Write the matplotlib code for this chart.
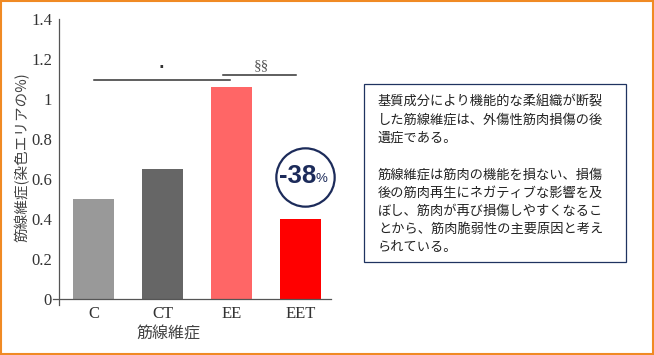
import matplotlib.pyplot as plt
from matplotlib.patches import Rectangle

plt.rcParams['font.family'] = ['Noto Sans CJK JP', 'DejaVu Sans']

groups = ["C", "CT", "EE", "EET"]
fibrosis = [0.50, 0.65, 1.06, 0.40]
colors = ["#999999", "#666666", "#ff6666", "#ff0000"]
yticks = [0, 0.2, 0.4, 0.6, 0.8, 1.0, 1.2, 1.4]
ytick_labels = ["0", "0.2", "0.4", "0.6", "0.8", "1", "1.2", "1.4"]
change_label = "-38"

note_lines = [
    "基質成分により機能的な柔組織が断裂",
    "した筋線維症は、外傷性筋肉損傷の後",
    "遺症である。",
    "",
    "筋線維症は筋肉の機能を損ない、損傷",
    "後の筋肉再生にネガティブな影響を及",
    "ぼし、筋肉が再び損傷しやすくなるこ",
    "とから、筋肉脆弱性の主要原因と考え",
    "られている。",
]

W, H = 654, 355
fig = plt.figure(figsize=(W / 100, H / 100), dpi=100)
ax = fig.add_axes([53 / W, (H - 305) / H, (331 - 53) / W, (305 - 19) / H])

x = range(len(groups))
ax.bar(x, fibrosis, width=0.6, color=colors, zorder=2)

ax.set_xlim(-0.587, 3.44)
ax.set_ylim(-0.03, 1.4)
for s in ["top", "right"]:
    ax.spines[s].set_visible(False)
ax.spines["left"].set_position(("data", -0.5))
ax.spines["bottom"].set_position(("data", 0))
for s in ["left", "bottom"]:
    ax.spines[s].set_color("#555555")
    ax.spines[s].set_linewidth(0.9)

ax.set_yticks(yticks)
ax.set_yticklabels(ytick_labels, family="Liberation Serif", fontsize=12,
                   color="#333333")
ax.set_xticks(list(x))
ax.set_xticklabels(groups, family="Liberation Serif", fontsize=12, color="#333333")
ax.tick_params(axis="y", length=0, pad=5)
ax.tick_params(axis="x", length=0, pad=5)

ax.set_xlabel("筋線維症", fontsize=11.5, color="#444444", va="center")
ax.xaxis.set_label_coords(0.414, -0.1)
fig.text(22 / W, 1 - 157 / H, "筋線維症(染色エリアの%)", rotation=90,
         ha="center", va="center", fontsize=10.5, color="#444444")

# significance brackets
ax.plot([0, 1.98], [1.094, 1.094], color="#333333", lw=1.1, clip_on=False)
ax.plot([1.88, 2.93], [1.119, 1.119], color="#333333", lw=1.1, clip_on=False)
ax.text(0.98, 1.16, "·", ha="center", va="center", fontsize=11,
        color="#333333", family="DejaVu Sans", fontweight="bold")
ax.text(2.43, 1.165, "§§", ha="center", va="center", fontsize=11,
        color="#555555", family="Liberation Serif")

# -38% circle
ax.plot([3.06], [0.61], marker="o", markersize=42, markerfacecolor="white",
        markeredgecolor="#1c2b5a", markeredgewidth=1.6, clip_on=False, zorder=3)
ax.text(2.96, 0.615, change_label, ha="center", va="center", fontsize=18.5,
        fontweight="bold", color="#1c2b5a", family="Liberation Sans", zorder=4)
ax.text(3.3, 0.598, "%", ha="center", va="center", fontsize=9.5,
        color="#1c2b5a", family="Liberation Sans", zorder=4)

# note box
fig.patches.append(Rectangle((364 / W, 1 - 262 / H), (626 - 364) / W, (262 - 84) / H,
                             transform=fig.transFigure, fill=False,
                             edgecolor="#1f3360", linewidth=0.9))
for i, line in enumerate(note_lines):
    fig.text(378 / W, 1 - (102 + i * 18.2) / H, line, ha="left", va="center",
             fontsize=9.5, color="#222222")

# orange frame
fig.patches.append(Rectangle((1 / W, 1 / H), (W - 2) / W, (H - 2) / H,
                             transform=fig.transFigure, fill=False,
                             edgecolor="#f08a24", linewidth=1.5))

fig.savefig("out.png", dpi=100)
